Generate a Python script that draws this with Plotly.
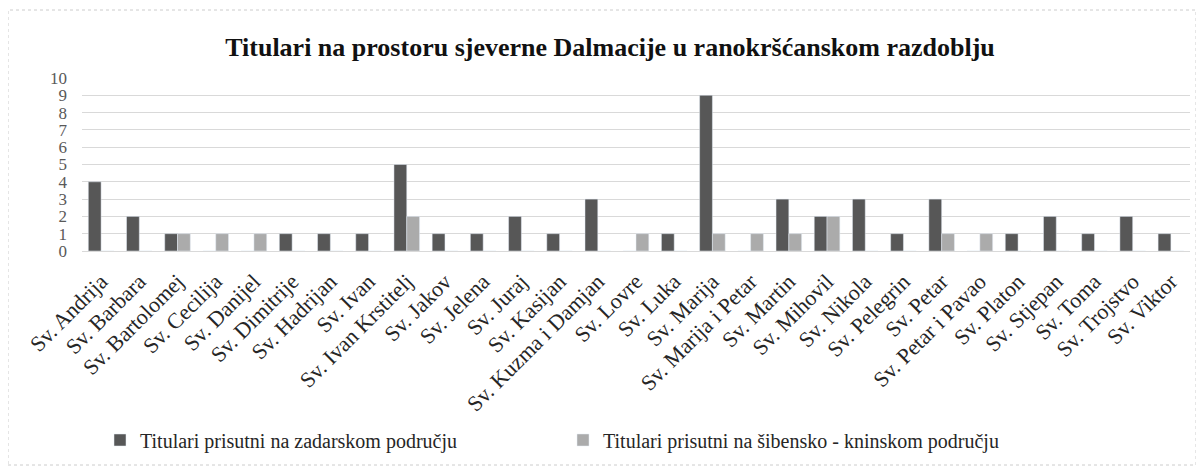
import plotly.graph_objects as go

categories = ["Sv. Andrija", "Sv. Barbara", "Sv. Bartolomej", "Sv. Cecilija", "Sv. Danijel",
              "Sv. Dimitrije", "Sv. Hadrijan", "Sv. Ivan", "Sv. Ivan Krstitelj", "Sv. Jakov",
              "Sv. Jelena", "Sv. Juraj", "Sv. Kasijan", "Sv. Kuzma i Damjan", "Sv. Lovre",
              "Sv. Luka", "Sv. Marija", "Sv. Marija i Petar", "Sv. Martin", "Sv. Mihovil",
              "Sv. Nikola", "Sv. Pelegrin", "Sv. Petar", "Sv. Petar i Pavao", "Sv. Platon",
              "Sv. Stjepan", "Sv. Toma", "Sv. Trojstvo", "Sv. Viktor"]
zadar = [4, 2, 1, 0, 0, 1, 1, 1, 5, 1, 1, 2, 1, 3, 0, 1, 9, 0, 3, 2, 3, 1, 3, 0, 1, 2, 1, 2, 1]
sibenik = [0, 0, 1, 1, 1, 0, 0, 0, 2, 0, 0, 0, 0, 0, 1, 0, 1, 1, 1, 2, 0, 0, 1, 1, 0, 0, 0, 0, 0]
series_names = ["Titulari prisutni na zadarskom području",
                "Titulari prisutni na šibensko - kninskom području"]
title = "Titulari na prostoru sjeverne Dalmacije u ranokršćanskom razdoblju"

W, H = 1204, 471
OFF = 8  # page body margin offset
# plot area in screen pixels: x 82..1190, y 78..251
L = 82 - OFF
T = 78 - OFF
R = W - (1190 - OFF)
B = H - (251 - OFF)
pw, ph = W - L - R, H - T - B

fig = go.Figure()
fig.add_trace(go.Bar(x=categories, y=zadar, name=series_names[0], marker_color="#575757"))
fig.add_trace(go.Bar(x=categories, y=sibenik, name=series_names[1], marker_color="#ababab"))

def px_x(x):
    return (x - OFF - L) / pw

def px_y(y):
    return (H - B - (y - OFF)) / ph

fig.update_layout(
    width=W, height=H,
    margin=dict(l=L, r=R, t=T, b=B),
    paper_bgcolor="white", plot_bgcolor="white",
    barmode="group", bargap=0.33, bargroupgap=0,
    font=dict(family="Liberation Serif", color="#404040"),
    title=dict(text="<b>" + title + "</b>", x=0.5, xanchor="center",
               y=1 - (47 - OFF) / H, yanchor="middle",
               font=dict(family="Liberation Serif", size=26, color="#111111")),
    xaxis=dict(tickangle=-45, tickfont=dict(size=22, color="#262626"),
               showgrid=False, showline=True, linecolor="#d9d9d9", linewidth=1,
               ticks="", automargin=False, ticklabelstandoff=8),
    yaxis=dict(range=[0, 10], dtick=1, tickfont=dict(size=17, color="#595959"),
               showgrid=True, gridcolor="#d9d9d9", gridwidth=1, zeroline=False,
               ticks="", ticklabelstandoff=14, automargin=False),
    legend=dict(orientation="h", x=px_x(100), xanchor="left", y=px_y(440), yanchor="middle",
                font=dict(size=20, color="#262626"), entrywidth=418,
                itemwidth=30),
    showlegend=True,
    shapes=[dict(type="rect", xref="paper", yref="paper",
                 x0=px_x(8), x1=px_x(1196), y0=px_y(465), y1=px_y(10),
                 line=dict(color="#cccccc", width=1, dash="dot"), fillcolor="rgba(0,0,0,0)",
                 layer="below")],
)

fig.write_html("out.html")
